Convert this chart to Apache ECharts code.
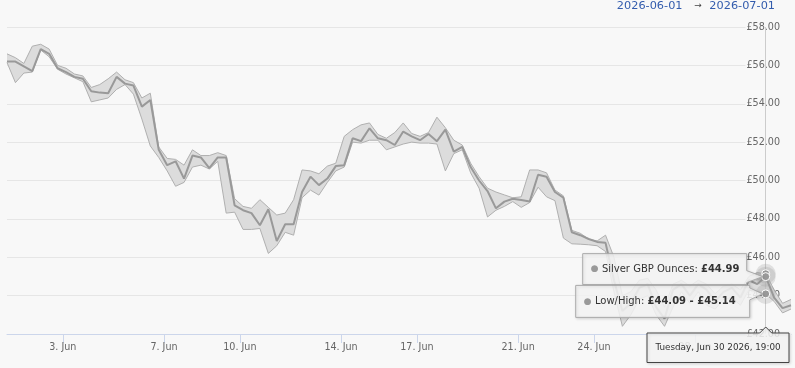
<!DOCTYPE html>
<html>
<head>
<meta charset="utf-8">
<title>Silver GBP Ounces</title>
<script src="https://cdn.jsdelivr.net/npm/echarts@6/dist/echarts.min.js"></script>
<style>
  html, body { margin: 0; padding: 0; background: #f8f8f8; }
  #chart { width: 795px; height: 368px; }
</style>
</head>
<body>
<div id="chart"></div>
<script>
// one reading every 8 hours, first one 31 May 19:00 (UTC)
const startTime = Date.UTC(2026, 4, 31, 19);
const stepHours = 8;

const closeValues = [
  56.2, 56.2, 55.95, 55.7, 56.85, 56.6, 55.85, 55.65, 55.4, 55.3,
  54.65, 54.58, 54.55, 55.4, 55.05, 54.95, 53.85, 54.2, 51.6, 50.8,
  51.0, 50.1, 51.3, 51.2, 50.65, 51.2, 51.2, 48.7, 48.45, 48.3,
  47.67, 48.5, 46.85, 47.72, 47.72, 49.4, 50.2, 49.76, 50.1, 50.75,
  50.8, 52.2, 52.05, 52.72, 52.2, 52.1, 51.85, 52.55, 52.3, 52.1,
  52.42, 52.05, 52.65, 51.5, 51.75, 50.7, 50.0, 49.45, 48.55, 48.9,
  49.05, 48.98, 48.9, 50.3, 50.2, 49.4, 49.1, 47.3, 47.15, 46.95,
  46.8, 46.75, 44.8, 43.2, 43.6, 44.4, 44.6, 43.4, 42.8, 44.3,
  44.6, 44.0, 44.6, 44.3, 43.7, 44.2, 44.4, 43.9, 44.8, 44.6,
  44.99, 43.9, 43.35, 43.5
];
const highValues = [
  56.6, 56.4, 56.1, 57.0, 57.1, 56.85, 56.0, 55.85, 55.55, 55.45,
  54.85, 55.0, 55.3, 55.65, 55.25, 55.1, 54.3, 54.55, 51.75, 51.15,
  51.1, 50.8, 51.6, 51.3, 51.3, 51.45, 51.3, 49.05, 48.65, 48.55,
  49.0, 48.6, 48.2, 48.3, 49.0, 50.55, 50.5, 50.35, 50.75, 50.9,
  52.3, 52.65, 52.9, 53.0, 52.4, 52.2, 52.5, 53.0, 52.45, 52.3,
  52.5, 53.3, 52.75, 52.1, 51.85, 50.9, 50.2, 49.6, 49.4, 49.25,
  49.1, 49.15, 50.55, 50.55, 50.4, 49.5, 49.2, 47.4, 47.25, 46.95,
  46.85, 47.15, 46.0, 44.0, 44.2, 44.8, 44.9, 44.3, 43.4, 44.6,
  44.8, 44.5, 44.8, 44.6, 44.1, 44.5, 44.6, 44.3, 45.0, 45.2,
  45.14, 44.3, 43.6, 43.8
];
const lowValues = [
  56.15, 55.1, 55.6, 55.65, 56.8, 56.45, 55.8, 55.55, 55.35, 55.15,
  54.1, 54.2, 54.3, 54.75, 55.0, 54.5, 53.2, 51.8, 51.2, 50.5,
  49.7, 49.9, 50.7, 50.8, 50.6, 51.0, 48.3, 48.35, 47.45, 47.45,
  47.5, 46.2, 46.6, 47.3, 47.15, 49.1, 49.5, 49.24, 49.9, 50.5,
  50.7, 52.0, 51.95, 52.1, 52.1, 51.6, 51.75, 51.9, 52.0, 51.95,
  51.95, 51.9, 50.5, 51.4, 51.6, 50.4, 49.6, 48.1, 48.45, 48.65,
  48.9, 48.6, 48.85, 49.65, 49.15, 48.95, 47.0, 46.7, 46.68, 46.65,
  46.6, 46.3, 44.2, 42.4, 43.0, 43.8, 44.0, 43.0, 42.4, 43.4,
  44.2, 43.6, 44.2, 43.5, 43.3, 43.8, 43.9, 43.5, 44.3, 44.2,
  44.09, 43.7, 43.1, 43.3
];

const tickDays = ['2026-06-03', '2026-06-07', '2026-06-10', '2026-06-14', '2026-06-17', '2026-06-21', '2026-06-24', '2026-06-28'];
const yMin = 42, yMax = 58, yStep = 2;
const rangeFrom = '2026-06-01';
const rangeTo = '2026-07-01';
const seriesName = 'Silver GBP Ounces';
const rangeName = 'Low/High';
const hoverIndex = 90;   // point shown in the tooltip

const FONT = 'DejaVu Sans';
const BG = '#f8f8f8';

const times = closeValues.map((v, i) => startTime + i * stepHours * 3600 * 1000);
const tickTimes = tickDays.map(d => Date.parse(d + 'T00:00:00Z'));

const DAYS = ['Sunday', 'Monday', 'Tuesday', 'Wednesday', 'Thursday', 'Friday', 'Saturday'];
const MONTHS = ['Jan', 'Feb', 'Mar', 'Apr', 'May', 'Jun', 'Jul', 'Aug', 'Sep', 'Oct', 'Nov', 'Dec'];
const pad = n => (n < 10 ? '0' : '') + n;
function longDate(t) {
  const d = new Date(t);
  return DAYS[d.getUTCDay()] + ', ' + MONTHS[d.getUTCMonth()] + ' ' + d.getUTCDate() + ' ' +
    d.getUTCFullYear() + ', ' + pad(d.getUTCHours()) + ':' + pad(d.getUTCMinutes());
}
const money = v => '£' + v.toFixed(2);

const hoverT = times[hoverIndex];
const halo = { symbolSize: 20, itemStyle: { color: 'rgba(150,150,150,0.25)' } };
const dot = { symbolSize: 8, itemStyle: { color: '#999', borderColor: '#fff', borderWidth: 1 } };

// low/high band as one filled polygon: high points forward, low points back
function renderBand(params, api) {
  if (params.dataIndex !== 0) return null;
  const pts = [];
  for (let i = 0; i < times.length; i++) pts.push(api.coord([times[i], highValues[i]]));
  for (let i = times.length - 1; i >= 0; i--) pts.push(api.coord([times[i], lowValues[i]]));
  return {
    type: 'polygon',
    shape: { points: pts },
    style: { fill: '#dcdcdc' }
  };
}

const option = {
  backgroundColor: BG,
  animation: false,
  grid: { left: 7, right: 4, top: 27, bottom: 34 },
  xAxis: {
    // timestamps on a plain value axis so the tick days can be given directly
    type: 'value',
    min: times[0],
    max: times[times.length - 1],
    axisLine: { lineStyle: { color: '#ccd6eb', width: 1 } },
    axisTick: { show: true, customValues: tickTimes, length: 9, lineStyle: { color: '#ccd6eb' } },
    axisLabel: {
      customValues: tickTimes,
      formatter: v => new Date(v).getUTCDate() + '. ' + MONTHS[new Date(v).getUTCMonth()],
      color: '#666', fontSize: 9.6, fontFamily: FONT, margin: 8
    },
    splitLine: { show: false }
  },
  yAxis: {
    type: 'value',
    position: 'right',
    min: yMin, max: yMax, interval: yStep,
    axisLine: { show: false },
    axisTick: { show: false },
    axisLabel: {
      inside: true, margin: 0,
      formatter: v => money(v),
      color: '#666', fontSize: 9.6, fontFamily: FONT,
      backgroundColor: BG, padding: [2, 11, 2, 1]
    },
    splitLine: { lineStyle: { color: '#e6e6e6', width: 1 } }
  },
  series: [
    {
      name: rangeName,
      type: 'custom',
      renderItem: renderBand,
      encode: { x: 0, y: [1, 2] },
      data: times.map((t, i) => [t, lowValues[i], highValues[i]])
    },
    {
      name: 'high',
      type: 'line',
      symbol: 'none',
      lineStyle: { color: '#b0b0b0', width: 1 },
      data: times.map((t, i) => [t, highValues[i]])
    },
    {
      name: 'low',
      type: 'line',
      symbol: 'none',
      lineStyle: { color: '#b0b0b0', width: 1 },
      data: times.map((t, i) => [t, lowValues[i]])
    },
    {
      name: seriesName,
      type: 'line',
      symbol: 'none',
      lineStyle: { color: '#999', width: 2 },
      data: times.map((t, i) => [t, closeValues[i]]),
      markLine: {
        silent: true,
        symbol: ['none', 'none'],
        label: { show: false },
        lineStyle: { color: '#ccc', width: 1, type: 'solid' },
        data: [{ xAxis: hoverT }]
      },
      markPoint: {
        silent: true,
        symbol: 'circle',
        label: { show: false },
        data: [
          Object.assign({ coord: [hoverT, highValues[hoverIndex]] }, halo),
          Object.assign({ coord: [hoverT, lowValues[hoverIndex]] }, halo),
          Object.assign({ coord: [hoverT, closeValues[hoverIndex]] }, halo),
          Object.assign({ coord: [hoverT, highValues[hoverIndex]] }, dot),
          Object.assign({ coord: [hoverT, lowValues[hoverIndex]] }, dot),
          Object.assign({ coord: [hoverT, closeValues[hoverIndex]] }, dot)
        ]
      }
    }
  ]
};

const chart = echarts.init(document.getElementById('chart'));
chart.setOption(option);

// split tooltip boxes, placed from the hovered point
const W = chart.getWidth();
const pClose = chart.convertToPixel({ gridIndex: 0 }, [hoverT, closeValues[hoverIndex]]);
const pLow = chart.convertToPixel({ gridIndex: 0 }, [hoverT, lowValues[hoverIndex]]);
const pBase = chart.convertToPixel({ gridIndex: 0 }, [hoverT, yMin]);

function callout(x, y, w, h, tipX, tipY) {
  const r = x + w;
  const a1 = Math.max(y + 1, tipY - 6);
  const a2 = Math.min(y + h - 1, tipY + 6);
  return [[x, y], [r, y], [r, a1], [tipX, tipY], [r, a2], [r, y + h], [x, y + h]];
}
const boxStyle = {
  fill: 'rgba(247,247,247,0.85)', stroke: '#aaa', lineWidth: 1,
  shadowBlur: 3, shadowOffsetX: 1, shadowOffsetY: 1, shadowColor: 'rgba(0,0,0,0.15)'
};
const rich = {
  d: { fontSize: 9, fill: '#999', fontFamily: FONT },
  n: { fontSize: 10, fill: '#333', fontFamily: FONT },
  b: { fontSize: 10, fill: '#333', fontWeight: 'bold', fontFamily: FONT }
};

const b1 = { x: pClose[0] - 183, y: pClose[1] - 23, w: 164, h: 31 };
const b2 = { x: pLow[0] - 190, y: pLow[1] - 8.5, w: 174, h: 32 };
const b3 = { x: W - 148, y: pBase[1] - 1, w: 142, h: 29.5 };

chart.setOption({
  graphic: [
    { type: 'text', z: 50, x: W - 20, y: 6,
      style: { text: rangeTo, font: '11.3px ' + FONT, fill: '#335cad', align: 'right', verticalAlign: 'middle' } },
    { type: 'text', z: 50, x: W - 97, y: 6,
      style: { text: '→', font: '9px ' + FONT, fill: '#444', align: 'center', verticalAlign: 'middle' } },
    { type: 'text', z: 50, x: W - 112.5, y: 6,
      style: { text: rangeFrom, font: '11.3px ' + FONT, fill: '#335cad', align: 'right', verticalAlign: 'middle' } },

    { type: 'polygon', z: 100, shape: { points: callout(b1.x, b1.y, b1.w, b1.h, pClose[0] - 3, pClose[1]) }, style: boxStyle },
    { type: 'text', z: 101, x: b1.x + 8, y: b1.y + b1.h / 2,
      style: { text: '{d|●} {n|' + seriesName + ': }{b|' + money(closeValues[hoverIndex]) + '}', rich: rich, verticalAlign: 'middle' } },

    { type: 'polygon', z: 100, shape: { points: callout(b2.x, b2.y, b2.w, b2.h, pLow[0] - 3, pLow[1]) }, style: boxStyle },
    { type: 'text', z: 101, x: b2.x + 8, y: b2.y + b2.h / 2,
      style: { text: '{d|●} {n|' + rangeName + ': }{b|' + money(lowValues[hoverIndex]) + ' - ' + money(highValues[hoverIndex]) + '}', rich: rich, verticalAlign: 'middle' } },

    { type: 'polygon', z: 100,
      shape: { points: [[b3.x, b3.y], [pBase[0] - 6, b3.y], [pBase[0], b3.y - 6], [pBase[0] + 6, b3.y], [b3.x + b3.w, b3.y], [b3.x + b3.w, b3.y + b3.h], [b3.x, b3.y + b3.h]] },
      style: Object.assign({}, boxStyle, { stroke: '#444' }) },
    { type: 'text', z: 101, x: b3.x + b3.w / 2, y: b3.y + b3.h / 2,
      style: { text: longDate(hoverT), font: '8.8px ' + FONT, fill: '#333', align: 'center', verticalAlign: 'middle' } }
  ]
});
</script>
</body>
</html>
